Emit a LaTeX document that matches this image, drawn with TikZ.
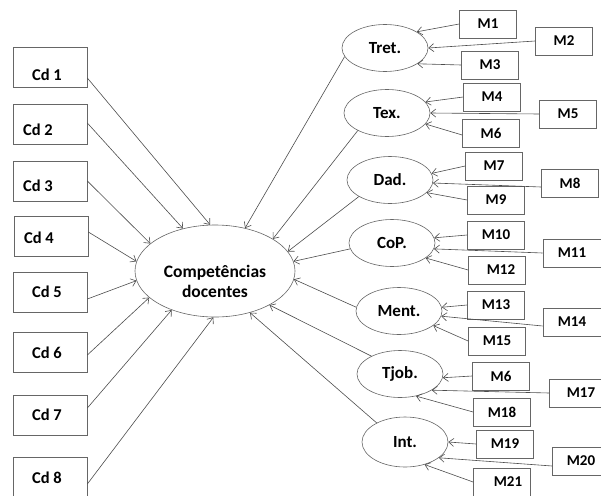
\documentclass[tikz,border=0pt]{standalone}
\usepackage{fontspec}
\setmainfont{Carlito}
\usetikzlibrary{shapes.geometric,arrows.meta}
\begin{document}
\begin{tikzpicture}[x=1pt,y=-1pt,
  cdbox/.style={draw=black!60, line width=0.7pt, minimum width=74pt, minimum height=40pt, inner sep=0pt},
  cdlbl/.style={font=\bfseries\fontsize{16.5}{18}\selectfont},
  mbox/.style={draw=black!60, line width=0.7pt, minimum width=57pt, minimum height=28pt, inner sep=0pt, font=\bfseries\fontsize{15}{16}\selectfont},
  fac/.style={draw=black!60, line width=0.6pt, ellipse, inner sep=0pt, minimum width=86pt, minimum height=47pt, font=\bfseries\fontsize{17}{18}\selectfont},
  lnk/.style={draw=black!70, line width=0.6pt, -{Straight Barb[length=5pt,width=8pt]}}
]
\clip (0,0) rectangle (601,495);

% central construct
\node[draw=black!60, line width=0.6pt, ellipse, inner sep=0pt, minimum width=160pt, minimum height=92pt,
  label={[font=\bfseries\fontsize{17.5}{20}\selectfont, align=center, yshift=-10pt]center:Competências\\docentes}] (comp) at (215,271) {};

% indicator boxes on the left
\node[cdbox, label={[cdlbl,xshift=-3pt,yshift=-8pt]center:Cd 1}] (cd1) at (50,67) {};
\node[cdbox, label={[cdlbl,xshift=-12pt,yshift=-6pt]center:Cd 2}] (cd2) at (50,124) {};
\node[cdbox, label={[cdlbl,xshift=-12pt,yshift=-5pt]center:Cd 3}] (cd3) at (50,181) {};
\node[cdbox, label={[cdlbl,xshift=-12pt,yshift=-2pt]center:Cd 4}] (cd4) at (51,236) {};
\node[cdbox, label={[cdlbl,xshift=-3pt]center:Cd 5}] (cd5) at (50,292) {};
\node[cdbox, label={[cdlbl,xshift=-3pt,yshift=-1pt]center:Cd 6}] (cd6) at (50,352) {};
\node[cdbox, label={[cdlbl,xshift=-3pt]center:Cd 7}] (cd7) at (50,415) {};
\node[cdbox, label={[cdlbl,xshift=-3pt,yshift=-1pt]center:Cd 8}] (cd8) at (50,477) {};

% first-order factors on the right
\node[fac] (tret) at (385,48)  {Tret.};
\node[fac] (tex)  at (387,113) {Tex.};
\node[fac] (dad)  at (390,180) {Dad.};
\node[fac] (cop)  at (392,243) {CoP.};
\node[fac] (ment) at (399,311) {Ment.};
\node[fac] (tjob) at (400,374) {Tjob.};
\node[fac, minimum height=50pt] (int) at (405,442) {Int.};

% measurement boxes
\node[mbox] (m1)  at (488,24)  {M1};
\node[mbox] (m2)  at (564,41)  {M2};
\node[mbox] (m3)  at (490,65)  {M3};
\node[mbox] (m4)  at (492,97)  {M4};
\node[mbox] (m5)  at (568,114) {M5};
\node[mbox] (m6)  at (491,133) {M6};
\node[mbox] (m7)  at (494,166) {M7};
\node[mbox] (m8)  at (570,183) {M8};
\node[mbox] (m9)  at (496,200) {M9};
\node[mbox] (m10) at (496,235) {M10};
\node[mbox, minimum width=58pt] (m11) at (572,253) {M11};
\node[mbox] (m12) at (497,270) {\hspace{8pt}M12};
\node[mbox] (m13) at (496,305) {M13};
\node[mbox, minimum width=58pt] (m14) at (572,322) {M14};
\node[mbox] (m15) at (497,341) {M15};
\node[mbox] (m16) at (501,376) {M6};
\node[mbox] (m17) at (578,393) {\hspace{6pt}M17};
\node[mbox] (m18) at (502,412) {M18};
\node[mbox] (m19) at (505,444) {M19};
\node[mbox] (m20) at (581,461) {M20};
\node[mbox] (m21) at (502,482) {\hspace{12pt}M21};

% indicators to the central construct
\draw[lnk] (cd1.east) ++(0,11) -- (comp.96);
\draw[lnk] (cd2.east) ++(0,-1) -- (comp.127);
\draw[lnk] (cd3.east) -- (comp.157);
\draw[lnk] (cd4.east) ++(0,-4) -- (comp.173);
\draw[lnk] (cd5.east) ++(0,7) -- (comp.187);
\draw[lnk] (cd6.east) ++(0,3) -- (comp.202);
\draw[lnk] (cd7.east) ++(0,-7) -- (comp.222);
\draw[lnk] (cd8.east) ++(0,7) -- (comp.268);

% factors to the central construct
\draw[lnk] (tret.192) -- (comp.55);
\draw[lnk] (tex.211)  -- (comp.29);
\draw[lnk] (dad.208)  -- (comp.15);
\draw[lnk] (cop.188)  -- (comp.7);
\draw[lnk] (ment.175) -- (comp.-6);
\draw[lnk] (tjob.148) -- (comp.-32);
\draw[lnk] (int.146)  -- (comp.-50);

% measurements to factors
\draw[lnk] (m1.west) -- (tret.27);
\draw[lnk] (m2.west) -- (tret.0);
\draw[lnk] (m3.west) -- (tret.-26);
\draw[lnk] (m4.west) -- (tex.16);
\draw[lnk] (m5.west) -- (tex.0);
\draw[lnk] (m6.west) ++(0,2) -- (tex.-16);
\draw[lnk] (m7.west) -- (dad.9);
\draw[lnk] (m8.west) ++(0,4) -- (dad.-4);
\draw[lnk] (m9.west) -- (dad.-19);
\draw[lnk] (m10.west) -- (cop.7);
\draw[lnk] (m11.west) -- (cop.-8);
\draw[lnk] (m12.west) -- (cop.-24);
\draw[lnk] (m13.west) -- (ment.5);
\draw[lnk] (m14.west) ++(0,4) -- (ment.-7);
\draw[lnk] (m15.west) -- (ment.-23);
\draw[lnk] (m16.west) -- (tjob.-5);
\draw[lnk] (m17.west) -- (tjob.-27);
\draw[lnk] (m18.west) -- (tjob.-54);
\draw[lnk] (m19.west) -- (int.0);
\draw[lnk] (m20.west) ++(0,5) -- (int.-25);
\draw[lnk] (m21.west) -- (int.-49);
\end{tikzpicture}
\end{document}
